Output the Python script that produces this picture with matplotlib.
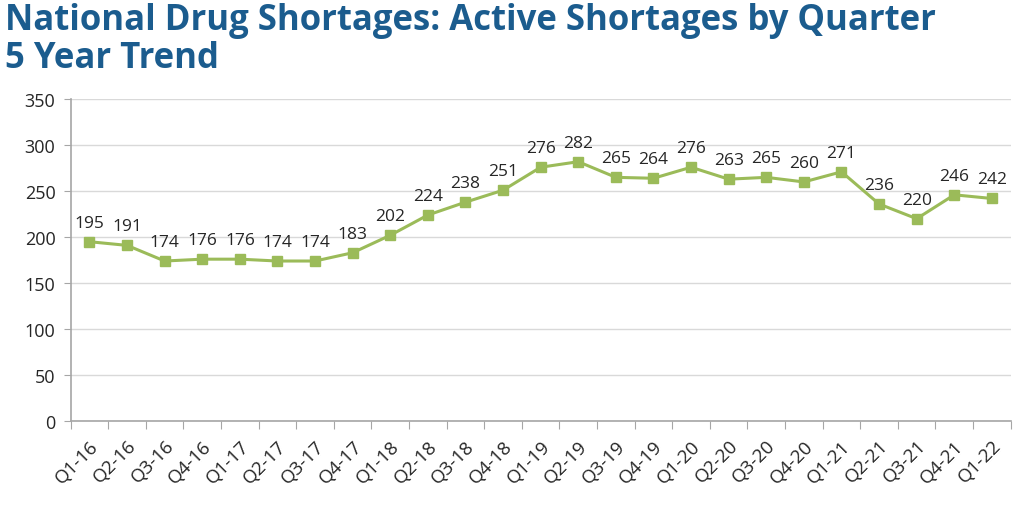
import matplotlib
matplotlib.use("Agg")
import matplotlib.pyplot as plt
import numpy as np

quarters = ["Q1-16", "Q2-16", "Q3-16", "Q4-16", "Q1-17", "Q2-17", "Q3-17", "Q4-17",
            "Q1-18", "Q2-18", "Q3-18", "Q4-18", "Q1-19", "Q2-19", "Q3-19", "Q4-19",
            "Q1-20", "Q2-20", "Q3-20", "Q4-20", "Q1-21", "Q2-21", "Q3-21", "Q4-21",
            "Q1-22"]
shortages = [195, 191, 174, 176, 176, 174, 174, 183, 202, 224, 238, 251, 276, 282,
             265, 264, 276, 263, 265, 260, 271, 236, 220, 246, 242]
y_ticks = [0, 50, 100, 150, 200, 250, 300, 350]

title_color = "#1b5c8e"
line_color = "#9bbb59"
grid_color = "#d9d9d9"
text_color = "#262626"

fig = plt.figure(figsize=(10.24, 5.06), dpi=100)
ax = fig.add_axes([0.069, 0.166, 0.918, 0.636])

x = np.arange(len(quarters))
ax.plot(x, shortages, color=line_color, linewidth=2.2, marker="s", markersize=6.5,
        markerfacecolor=line_color, markeredgecolor=line_color, zorder=3)

for xi, v in zip(x, shortages):
    ax.annotate(str(v), (xi, v), xytext=(0, 8), textcoords="offset points",
                ha="center", va="bottom", fontsize=12.5, color=text_color,
                family="Open Sans")

ax.set_xlim(-0.5, len(quarters) - 0.5)
ax.set_ylim(0, 350)
ax.set_yticks(y_ticks)
ax.set_yticklabels([str(t) for t in y_ticks], fontsize=13, color=text_color,
                   family="Open Sans")
ax.yaxis.grid(True, color=grid_color, linewidth=1)
ax.set_axisbelow(True)

# category ticks sit between the points, labels at the points
ax.set_xticks(np.arange(len(quarters) + 1) - 0.5)
ax.set_xticklabels([])
ax.set_xticks(x, minor=True)
ax.set_xticklabels(quarters, minor=True, rotation=45, ha="right",
                   rotation_mode="anchor", fontsize=13.5, color=text_color,
                   family="Open Sans")
ax.tick_params(axis="x", which="minor", length=0, pad=11)
ax.tick_params(axis="x", which="major", length=6, color="#a6a6a6")
ax.tick_params(axis="y", length=5, color="#a6a6a6", pad=6)

for side in ["top", "right"]:
    ax.spines[side].set_visible(False)
for side in ["left", "bottom"]:
    ax.spines[side].set_color("#a6a6a6")
    ax.spines[side].set_linewidth(1.2)

fig.text(0.005, 0.995, "National Drug Shortages: Active Shortages by Quarter\n5 Year Trend",
         ha="left", va="top", fontsize=25, fontweight="bold", color=title_color,
         family="Open Sans", linespacing=1.1)

fig.savefig("out.png", dpi=100)
